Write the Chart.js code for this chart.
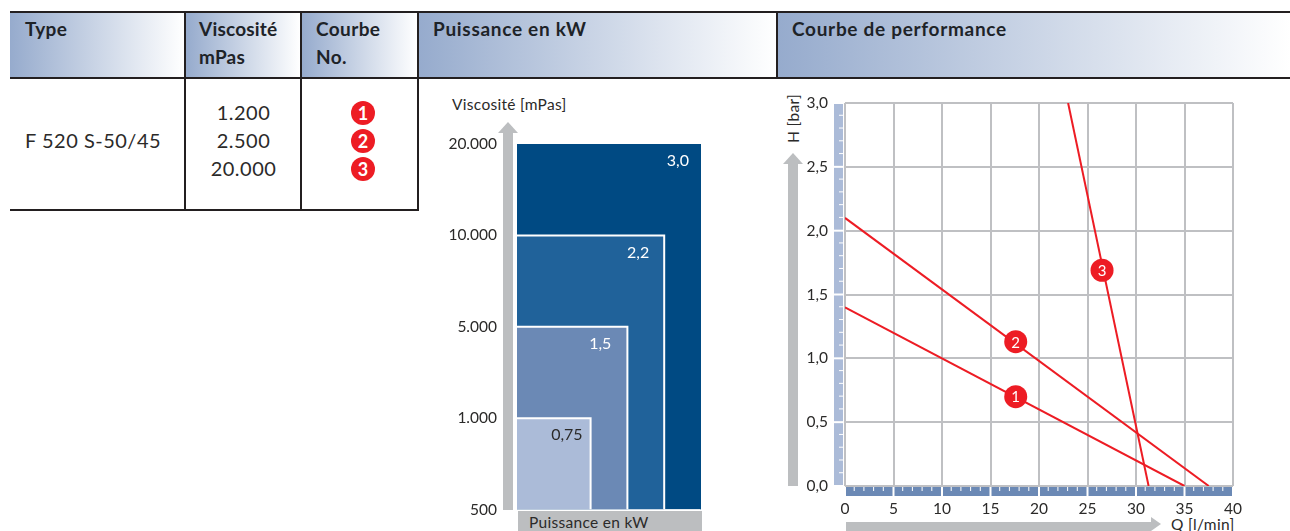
<!DOCTYPE html>
<html>
<head>
<meta charset="utf-8">
<script src="https://cdn.jsdelivr.net/npm/chart.js@4"></script>
<style>
html, body { margin: 0; padding: 0; background: #fff; }
body { width: 1290px; height: 531px; position: relative; overflow: hidden; font-family: Lato, sans-serif; color: #2b2a29; }
.head { position: absolute; top: 13px; height: 64px; background: linear-gradient(to right, #96abcd, #ffffff); font-weight: 700; font-size: 19px; line-height: 28px; color: #1e2328; box-sizing: border-box; padding-top: 2px; letter-spacing: 0.4px; }
.line { position: absolute; background: #231f20; }
.cell { position: absolute; font-size: 20px; line-height: 28px; text-align: center; letter-spacing: 0.5px; }
.badge { position: absolute; left: 351px; width: 24px; height: 24px; border-radius: 50%; background: #ed1c24; color: #fff; font-size: 18px; font-weight: 700; line-height: 24px; text-align: center; }
.label { position: absolute; font-size: 15.5px; line-height: 18px; white-space: nowrap; letter-spacing: 0.3px; }
.shaft { position: absolute; background: #bcbec0; }
.tip { position: absolute; background: #bcbec0; }
canvas { position: absolute; }
</style>
</head>
<body>
<div class="head" style="left:10px;width:174px;padding-left:15px">Type</div>
<div class="head" style="left:186px;width:114px;padding-left:13px;letter-spacing:0.2px">Viscosité<br>mPas</div>
<div class="head" style="left:302px;width:115px;padding-left:14px">Courbe<br>No.</div>
<div class="head" style="left:419px;width:357px;padding-left:14px;letter-spacing:0.7px">Puissance en kW</div>
<div class="head" style="left:778px;width:512px;padding-left:14px;letter-spacing:0.7px">Courbe de performance</div>

<div class="line" style="left:10px;top:11px;width:1280px;height:2px"></div>
<div class="line" style="left:10px;top:77px;width:1280px;height:2px"></div>
<div class="line" style="left:10px;top:209px;width:409px;height:2px"></div>
<div class="line" style="left:184px;top:11px;width:2px;height:199px"></div>
<div class="line" style="left:300px;top:11px;width:2px;height:199px"></div>
<div class="line" style="left:417px;top:11px;width:2px;height:199px"></div>
<div class="line" style="left:776px;top:11px;width:2px;height:67px"></div>

<div class="cell" style="left:25px;top:126px;text-align:left">F 520 S-50/45</div>
<div class="cell" style="left:186px;top:98px;width:115px">1.200<br>2.500<br>20.000</div>
<div class="badge" style="top:101px">1</div>
<div class="badge" style="top:129px">2</div>
<div class="badge" style="top:157px">3</div>

<div class="label" style="left:452px;top:95px">Viscosité [mPas]</div>
<div class="shaft" style="left:503px;top:133px;width:10px;height:377px"></div>
<div class="tip" style="left:498px;top:122px;width:20px;height:11px;clip-path:polygon(50% 0,100% 100%,0 100%)"></div>
<div class="shaft" style="left:518px;top:511px;width:184px;height:20px"></div>
<div class="label" style="left:529px;top:513px">Puissance en kW</div>

<div class="label" style="left:770px;top:111px;width:46px;transform:rotate(-90deg);text-align:left">H [bar]</div>
<div class="shaft" style="left:788px;top:164px;width:10px;height:322px"></div>
<div class="tip" style="left:783px;top:153px;width:20px;height:11px;clip-path:polygon(50% 0,100% 100%,0 100%)"></div>
<div class="shaft" style="left:846px;top:522px;width:305px;height:9px"></div>
<div class="tip" style="left:1151px;top:517px;width:10px;height:14px;clip-path:polygon(0 0,100% 50%,0 100%)"></div>
<div class="label" style="left:1171px;top:515px">Q [l/min]</div>

<canvas id="powerChart" style="left:440px;top:120px" width="280" height="411"></canvas>
<canvas id="curveChart" style="left:770px;top:85px" width="500" height="446"></canvas>

<script>
// viscosity steps are evenly spaced on the axis, so y is the step number
const viscosityTicks = ['500', '1.000', '5.000', '10.000', '20.000'];
// smallest block first, chart.js draws the first dataset on top
const powerLabels = ['0,75', '1,5', '2,2', '3,0'];
const powerSteps = [1, 2, 3, 4];
const powerWidths = [2, 3, 4, 5];
const powerColors = ['#abbbd8', '#6b89b5', '#20629a', '#004a83'];
const powerTextColors = ['#2b2a29', '#ffffff', '#ffffff', '#ffffff'];

const flowTicks = [0, 5, 10, 15, 20, 25, 30, 35, 40];
const curve1 = [{ x: 0, y: 1.4 }, { x: 35, y: 0 }];
const curve2 = [{ x: 0, y: 2.1 }, { x: 37.5, y: 0 }];
const curve3 = [{ x: 23, y: 3 }, { x: 31.3, y: 0 }];
const curveNames = ['1', '2', '3'];
const badgePoints = [{ x: 17.6, y: 0.7 }, { x: 17.6, y: 1.13 }, { x: 26.5, y: 1.69 }];

const tickFont = { family: 'Lato', size: 15.5 };

// prints the kW value in the top right corner of every block
const powerText = {
    id: 'powerText',
    afterDatasetsDraw(chart) {
        const ctx = chart.ctx;
        const gaps = [8, 16, 15, 12];
        ctx.save();
        ctx.font = '16px Lato';
        ctx.textAlign = 'right';
        ctx.textBaseline = 'middle';
        powerLabels.forEach((label, i) => {
            ctx.fillStyle = powerTextColors[i];
            ctx.fillText(label, chart.scales.x.getPixelForValue(powerWidths[i]) - gaps[i], chart.scales.y.getPixelForValue(powerSteps[i]) + 17);
        });
        ctx.restore();
    }
};

new Chart(document.getElementById('powerChart'), {
    type: 'scatter',
    data: {
        datasets: powerWidths.map((width, i) => ({
            label: powerLabels[i],
            data: [{ x: 0, y: powerSteps[i] }, { x: width, y: powerSteps[i] }, { x: width, y: 0 }],
            showLine: true,
            fill: 'origin',
            backgroundColor: powerColors[i],
            borderColor: i == 3 ? powerColors[3] : '#ffffff',
            borderWidth: 2,
            pointRadius: 0
        }))
    },
    plugins: [powerText],
    options: {
        responsive: false,
        animation: false,
        layout: { padding: { top: 24, right: 19, bottom: 21.5 } },
        plugins: { legend: { display: false }, tooltip: { enabled: false } },
        scales: {
            x: { type: 'linear', min: 0, max: 5, display: false },
            y: {
                type: 'linear', min: 0, max: 4,
                afterFit: scale => { scale.width = 77; scale.paddingTop = 0; scale.paddingBottom = 0; },
                grid: { display: false },
                border: { display: false },
                ticks: {
                    stepSize: 1,
                    padding: 12,
                    color: '#2b2a29',
                    font: tickFont,
                    callback: value => viscosityTicks[value]
                }
            }
        }
    }
});

// blue ruler strips along both axes and the numbered badges on the curves
const curveExtras = {
    id: 'curveExtras',
    afterDatasetsDraw(chart) {
        const ctx = chart.ctx;
        const x = chart.scales.x;
        const y = chart.scales.y;
        ctx.save();
        ctx.fillStyle = '#6b89b5';
        ctx.fillRect(x.left, y.bottom + 1, x.right - x.left, 9);
        ctx.fillStyle = '#abbbd8';
        ctx.fillRect(x.left - 11, y.top, 9, y.bottom - y.top);
        ctx.fillStyle = '#ffffff';
        for (let q = 0; q <= 40; q++) {
            const major = q % 5 == 0;
            ctx.fillRect(x.getPixelForValue(q) - 1, y.bottom + 1, major ? 2 : 1, major ? 9 : 4);
        }
        for (let h = 0; h <= 30; h++) {
            const major = h % 5 == 0;
            const py = y.getPixelForValue(h / 10);
            ctx.fillRect(x.left - (major ? 11 : 6), py - 1, major ? 9 : 4, major ? 2 : 1);
        }
        badgePoints.forEach((point, i) => {
            const px = x.getPixelForValue(point.x);
            const py = y.getPixelForValue(point.y);
            ctx.fillStyle = '#ed1c24';
            ctx.beginPath();
            ctx.arc(px, py, 11.5, 0, Math.PI * 2);
            ctx.fill();
            ctx.fillStyle = '#ffffff';
            ctx.font = '15px Lato';
            ctx.textAlign = 'center';
            ctx.textBaseline = 'middle';
            ctx.fillText(curveNames[i], px, py + 1);
        });
        ctx.restore();
    }
};

function curveDataset(name, points) {
    return { label: name, data: points, showLine: true, borderColor: '#ed1c24', borderWidth: 2, pointRadius: 0 };
}

new Chart(document.getElementById('curveChart'), {
    type: 'scatter',
    data: {
        datasets: [curveDataset('1', curve1), curveDataset('2', curve2), curveDataset('3', curve3)]
    },
    plugins: [curveExtras],
    options: {
        responsive: false,
        animation: false,
        layout: { padding: { top: 18, right: 37 } },
        plugins: { legend: { display: false }, tooltip: { enabled: false } },
        scales: {
            x: {
                type: 'linear', min: 0, max: 40,
                afterFit: scale => { scale.height = 45; scale.paddingLeft = 0; scale.paddingRight = 0; },
                afterBuildTicks: scale => { scale.ticks = flowTicks.map(v => ({ value: v })); },
                grid: { color: '#bfc0c3', lineWidth: 2, drawTicks: false },
                border: { display: false },
                ticks: { padding: 14, maxRotation: 0, color: '#2b2a29', font: tickFont }
            },
            y: {
                type: 'linear', min: 0, max: 3,
                afterFit: scale => { scale.width = 75; scale.paddingTop = 0; scale.paddingBottom = 0; },
                grid: { color: '#bfc0c3', lineWidth: 2, drawTicks: false },
                border: { display: false },
                ticks: {
                    stepSize: 0.5,
                    padding: 17,
                    color: '#2b2a29',
                    font: tickFont,
                    callback: value => value.toFixed(1).replace('.', ',')
                }
            }
        }
    }
});
</script>
</body>
</html>
